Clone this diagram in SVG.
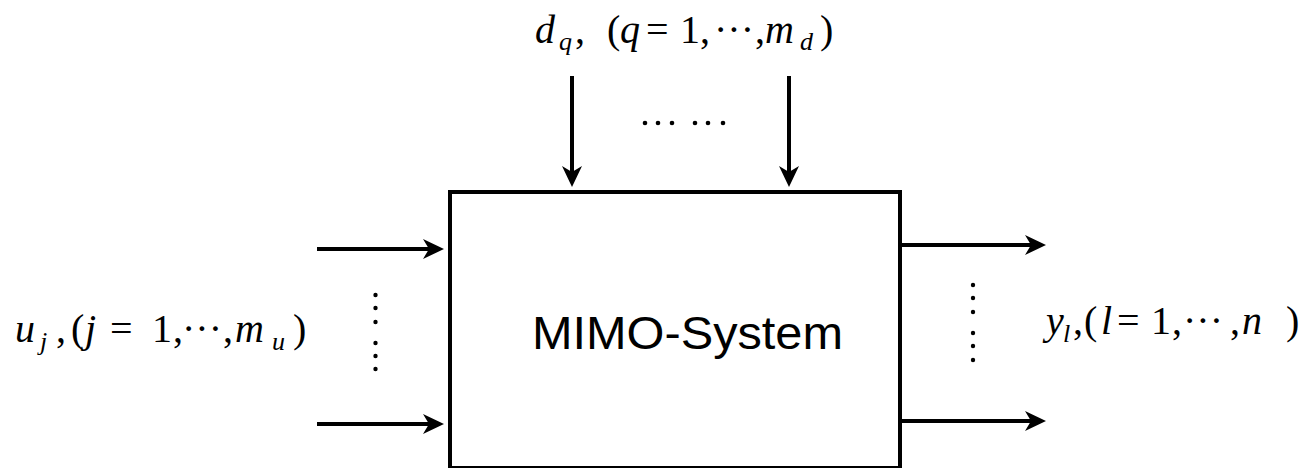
<svg xmlns="http://www.w3.org/2000/svg" width="1305" height="468" viewBox="0 0 1305 468">
<style>
.ln{stroke:#000;stroke-width:4;fill:none}
.m{font-family:"Liberation Serif","Times New Roman",serif;font-size:40px;fill:#000}
.i{font-style:italic}
.s{font-size:26px}
.lab{font-family:"Liberation Sans",Arial,sans-serif;font-size:46px;fill:#000}
.dot{fill:#000}
</style>
<defs>
<marker id="ah" viewBox="0 0 21 20" markerWidth="21" markerHeight="20" refX="9" refY="10" orient="auto" markerUnits="userSpaceOnUse">
<path d="M21,10 L0,0 L6,10 L0,20 Z" fill="#000"/>
</marker>
</defs>
<g id="system">
<rect x="450" y="192" width="450" height="276" class="ln"/>
<text class="lab" x="532" y="349" textLength="311" lengthAdjust="spacingAndGlyphs">MIMO-System</text>
</g>
<g id="connectors">
<line x1="572" y1="76" x2="572" y2="175" class="ln" marker-end="url(#ah)"/>
<line x1="789" y1="76" x2="789" y2="175" class="ln" marker-end="url(#ah)"/>
<line x1="317" y1="249" x2="432" y2="249" class="ln" marker-end="url(#ah)"/>
<line x1="317" y1="424" x2="432" y2="424" class="ln" marker-end="url(#ah)"/>
<line x1="902" y1="245" x2="1034" y2="245" class="ln" marker-end="url(#ah)"/>
<line x1="902" y1="421" x2="1034" y2="421" class="ln" marker-end="url(#ah)"/>
</g>
<g id="dots">
<circle class="dot" cx="645" cy="123" r="2.3"/>
<circle class="dot" cx="658" cy="123" r="2.3"/>
<circle class="dot" cx="672" cy="123" r="2.3"/>
<circle class="dot" cx="695" cy="123" r="2.3"/>
<circle class="dot" cx="708" cy="123" r="2.3"/>
<circle class="dot" cx="723" cy="123" r="2.3"/>
<circle class="dot" cx="375.5" cy="295" r="2.2"/>
<circle class="dot" cx="375.5" cy="308" r="2.2"/>
<circle class="dot" cx="375.5" cy="322" r="2.2"/>
<circle class="dot" cx="375.5" cy="343" r="2.2"/>
<circle class="dot" cx="375.5" cy="356" r="2.2"/>
<circle class="dot" cx="375.5" cy="369" r="2.2"/>
<circle class="dot" cx="973" cy="285" r="2.2"/>
<circle class="dot" cx="973" cy="298" r="2.2"/>
<circle class="dot" cx="973" cy="312" r="2.2"/>
<circle class="dot" cx="973" cy="333" r="2.2"/>
<circle class="dot" cx="973" cy="346" r="2.2"/>
<circle class="dot" cx="973" cy="360" r="2.2"/>
</g>
<g id="label-d">
<text class="m" y="43"><tspan class="i" x="535">d</tspan><tspan class="i s" x="559" y="50">q</tspan><tspan x="575" y="43">,</tspan><tspan x="607">(</tspan><tspan class="i" x="620">q</tspan><tspan x="646">=</tspan><tspan x="680">1</tspan><tspan x="700">,</tspan><tspan x="714">···</tspan><tspan x="755">,</tspan><tspan class="i" x="765">m</tspan><tspan class="i s" x="800" y="50">d</tspan><tspan x="820" y="43">)</tspan></text>
</g>
<g id="label-u">
<text class="m" y="342"><tspan class="i" x="15">u</tspan><tspan class="i s" x="40" y="350">j</tspan><tspan x="56" y="342">,</tspan><tspan x="71">(</tspan><tspan class="i" x="85">j</tspan><tspan x="110">=</tspan><tspan x="152">1</tspan><tspan x="173">,</tspan><tspan x="182">···</tspan><tspan x="223">,</tspan><tspan class="i" x="235">m</tspan><tspan class="i s" x="272" y="350">u</tspan><tspan x="293" y="342">)</tspan></text>
</g>
<g id="label-y">
<text class="m" y="334"><tspan class="i" x="1046">y</tspan><tspan class="i s" x="1063" y="342">l</tspan><tspan x="1073" y="334">,</tspan><tspan x="1084">(</tspan><tspan class="i" x="1101">l</tspan><tspan x="1117">=</tspan><tspan x="1151">1</tspan><tspan x="1172">,</tspan><tspan x="1183">···</tspan><tspan x="1230">,</tspan><tspan class="i" x="1242">n</tspan><tspan x="1286">)</tspan></text>
</g>
</svg>
